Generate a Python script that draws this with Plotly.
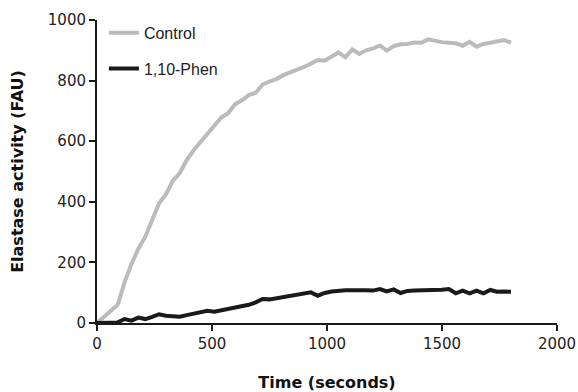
import plotly.graph_objects as go

time_s = list(range(0, 1801, 30))
control = [0, 20, 40, 60, 135, 195, 245, 285, 340, 395, 425, 470, 495, 538, 570, 597,
           625, 650, 678, 692, 722, 735, 752, 760, 787, 797, 805, 818, 826, 836, 845,
           856, 868, 866, 880, 893, 877, 903, 888, 900, 906, 916, 899, 914, 920, 921,
           926, 925, 936, 931, 927, 925, 923, 915, 928, 912, 921, 925, 928, 934, 925]
phen = [0, 0, 1, 2, 13, 8, 18, 13, 20, 29, 24, 23, 21, 26, 30, 34, 40, 37, 41, 45,
        50, 55, 60, 68, 79, 78, 82, 85, 87, 94, 96, 101, 90, 99, 104, 107, 108, 108,
        109, 108, 107, 112, 104, 111, 99, 106, 107, 107, 108, 109, 110, 112, 98, 107,
        98, 107, 98, 109, 103, 104, 103]

x_ticks = [0, 500, 1000, 1500, 2000]
y_ticks = [0, 200, 400, 600, 800, 1000]

fig = go.Figure()
fig.add_trace(go.Scatter(x=time_s, y=control, mode="lines", name="Control",
                         line=dict(color="#bbbbbb", width=4), legendgroup="a"))
fig.add_trace(go.Scatter(x=time_s, y=phen, mode="lines", name="1,10-Phen",
                         line=dict(color="#1a1a1a", width=4), legendgroup="b"))

tickfont = dict(family="DejaVu Sans", size=15, color="#222222")
titlefont = dict(family="DejaVu Sans", size=16, color="#111111", weight="bold")

fig.update_layout(
    width=578, height=392,
    margin=dict(l=97, r=21, t=20, b=69),
    paper_bgcolor="white", plot_bgcolor="white",
    showlegend=True,
    legend=dict(x=0.015, y=1.014, xanchor="left", yanchor="top",
                font=dict(family="Liberation Sans", size=16, color="#222222"),
                tracegroupgap=12, traceorder="grouped", itemwidth=30,
                bgcolor="rgba(0,0,0,0)"),
    xaxis=dict(range=[0, 2000], tickvals=x_ticks, showgrid=False, zeroline=False,
               showline=True, linecolor="#1a1a1a", linewidth=2, automargin=False,
               ticks="outside", ticklen=6, tickwidth=2, tickcolor="#1a1a1a",
               tickfont=tickfont, ticklabeloverflow="allow",
               title=dict(text="Time (seconds)", font=titlefont, standoff=31)),
    yaxis=dict(range=[0, 1000], tickvals=y_ticks, showgrid=False, zeroline=False,
               showline=True, linecolor="#1a1a1a", linewidth=2, automargin=False,
               ticks="outside", ticklen=6, tickwidth=2, tickcolor="#1a1a1a",
               tickfont=tickfont, ticklabeloverflow="allow",
               title=dict(text="Elastase activity (FAU)", font=titlefont, standoff=20)),
)

fig.write_html("out.html", config={"displayModeBar": False},
               post_script="document.body.style.margin='0';document.body.style.overflow='hidden';")
